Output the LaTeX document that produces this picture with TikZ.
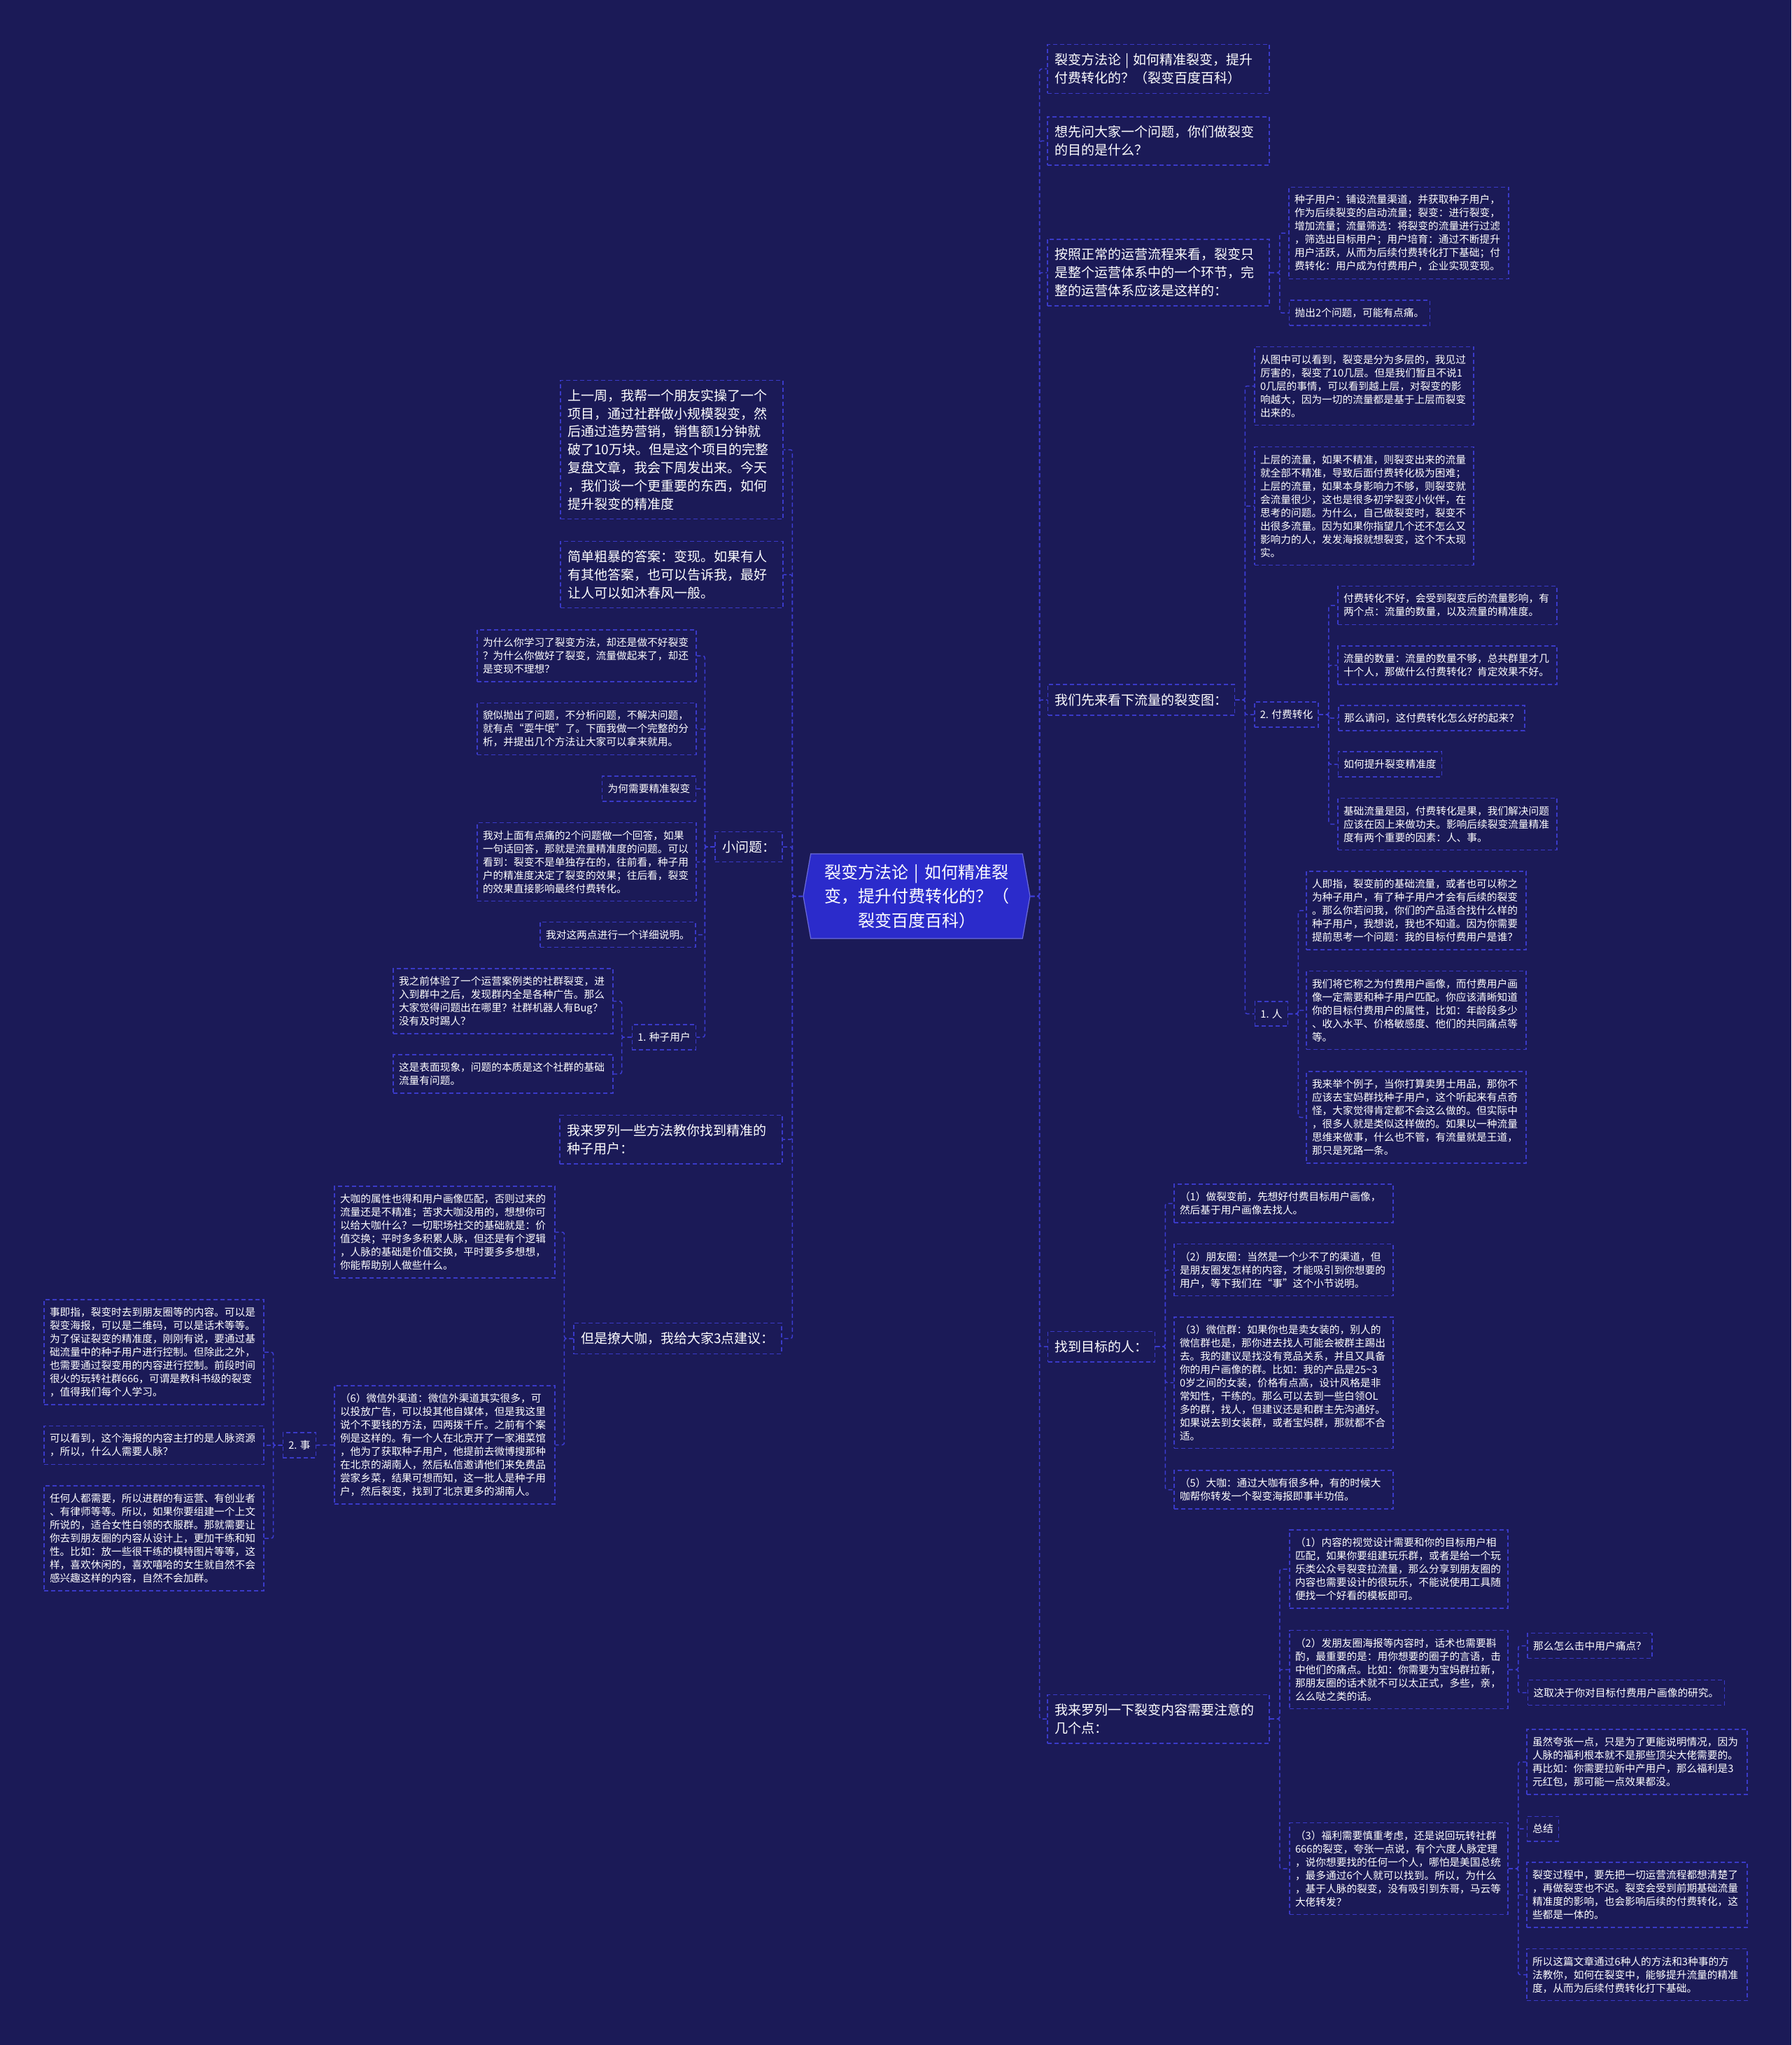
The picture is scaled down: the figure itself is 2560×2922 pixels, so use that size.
\documentclass[tikz,border=0pt]{standalone}
\usepackage{fontspec}
\setmainfont{Noto Sans CJK SC}
\usetikzlibrary{shapes.symbols}
\definecolor{cfondo}{HTML}{1B1A57}
\definecolor{cborde}{HTML}{3A3AC8}
\definecolor{clinea}{HTML}{3C3CD2}
\definecolor{craiz}{HTML}{2B2BCB}
\tikzset{
  hoja/.style={draw=cborde,line width=1.5pt,dash pattern=on 6pt off 4pt,text=white,
               align=left,inner xsep=8pt,inner ysep=11pt,font=\fontsize{14.7}{19}\selectfont},
  rama/.style={hoja,inner xsep=10pt,inner ysep=13pt,font=\fontsize{19}{25.8}\selectfont},
  raiz/.style={signal,signal to=west and east,signal pointer angle=160,fill=craiz,
               draw=craiz!70!white,line width=1.2pt,text=white,align=center,
               font=\fontsize{24}{34.5}\selectfont,minimum width=324pt,minimum height=121pt,
               text width=290pt},
  enlace/.style={draw=clinea,line width=1.5pt,dash pattern=on 6pt off 4pt,rounded corners=3pt},
}
\begin{document}
\begin{tikzpicture}[x=1pt,y=-1pt]
\useasboundingbox (0,0) rectangle (2560,2922);
\fill[cfondo] (0,0) rectangle (2560,2922);

\node[raiz] (raiz) at (1310,1280.5)
  {裂变方法论 | 如何精准裂\\变，提升付费转化的？（\\裂变百度百科）};

% lado derecho
\node[rama,text width=297pt] (tit) at (1655.5,98.5)
  {裂变方法论 | 如何精准裂变，提升\\付费转化的？（裂变百度百科）};
\node[rama,text width=297pt] (preg) at (1655.5,201.5)
  {想先问大家一个问题，你们做裂变\\的目的是什么？};
\node[rama,text width=297pt] (flujo) at (1655.5,389.5)
  {按照正常的运营流程来看，裂变只\\是整个运营体系中的一个环节，完\\整的运营体系应该是这样的：};
\node[hoja,text width=298pt] (semilla) at (1999,333)
  {种子用户：铺设流量渠道，并获取种子用户，\\作为后续裂变的启动流量；裂变：进行裂变，\\增加流量；流量筛选：将裂变的流量进行过滤\\，筛选出目标用户；用户培育：通过不断提升\\用户活跃，从而为后续付费转化打下基础；付\\费转化：用户成为付费用户，企业实现变现。};
\node[hoja] (dolor) at (1943,447) {抛出2个问题，可能有点痛。};

\node[rama] (fisi) at (1631,1000) {我们先来看下流量的裂变图：};
\node[hoja,text width=297pt] (capas) at (1949.5,551.5)
  {从图中可以看到，裂变是分为多层的，我见过\\厉害的，裂变了10几层。但是我们暂且不说1\\0几层的事情，可以看到越上层，对裂变的影\\响越大，因为一切的流量都是基于上层而裂变\\出来的。};
\node[hoja,text width=297pt] (super) at (1949.5,723)
  {上层的流量，如果不精准，则裂变出来的流量\\就全部不精准，导致后面付费转化极为困难；\\上层的流量，如果本身影响力不够，则裂变就\\会流量很少，这也是很多初学裂变小伙伴，在\\思考的问题。为什么，自己做裂变时，裂变不\\出很多流量。因为如果你指望几个还不怎么又\\影响力的人，发发海报就想裂变，这个不太现\\实。};
\node[hoja] (pago) at (1838.5,1021) {2. 付费转化};
\node[hoja,text width=297pt] (pago1) at (2068.5,865)
  {付费转化不好，会受到裂变后的流量影响，有\\两个点：流量的数量，以及流量的精准度。};
\node[hoja,text width=297pt] (pago2) at (2068.5,950.5)
  {流量的数量：流量的数量不够，总共群里才几\\十个人，那做什么付费转化？肯定效果不好。};
\node[hoja] (pago3) at (2046,1026) {那么请问，这付费转化怎么好的起来？};
\node[hoja] (pago4) at (1986.5,1092) {如何提升裂变精准度};
\node[hoja,text width=297pt] (pago5) at (2068.5,1177.5)
  {基础流量是因，付费转化是果，我们解决问题\\应该在因上来做功夫。影响后续裂变流量精准\\度有两个重要的因素：人、事。};
\node[hoja] (pers) at (1817,1448.5) {1. 人};
\node[hoja,text width=298pt] (pers1) at (2024,1301)
  {人即指，裂变前的基础流量，或者也可以称之\\为种子用户，有了种子用户才会有后续的裂变\\。那么你若问我，你们的产品适合找什么样的\\种子用户，我想说，我也不知道。因为你需要\\提前思考一个问题：我的目标付费用户是谁？};
\node[hoja,text width=298pt] (pers2) at (2024,1443.5)
  {我们将它称之为付费用户画像，而付费用户画\\像一定需要和种子用户匹配。你应该清晰知道\\你的目标付费用户的属性，比如：年龄段多少\\、收入水平、价格敏感度、他们的共同痛点等\\等。};
\node[hoja,text width=298pt] (pers3) at (2024,1596.5)
  {我来举个例子，当你打算卖男士用品，那你不\\应该去宝妈群找种子用户，这个听起来有点奇\\怪，大家觉得肯定都不会这么做的。但实际中\\，很多人就是类似这样做的。如果以一种流量\\思维来做事，什么也不管，有流量就是王道，\\那只是死路一条。};

\node[rama] (meta) at (1574,1924) {找到目标的人：};
\node[hoja,text width=297pt] (meta1) at (1834.5,1719.5)
  {（1）做裂变前，先想好付费目标用户画像，\\然后基于用户画像去找人。};
\node[hoja,text width=297pt] (meta2) at (1834.5,1814.5)
  {（2）朋友圈：当然是一个少不了的渠道，但\\是朋友圈发怎样的内容，才能吸引到你想要的\\用户，等下我们在“事”这个小节说明。};
\node[hoja,text width=297pt] (meta3) at (1834.5,1975.5)
  {（3）微信群：如果你也是卖女装的，别人的\\微信群也是，那你进去找人可能会被群主踢出\\去。我的建议是找没有竞品关系，并且又具备\\你的用户画像的群。比如：我的产品是25\textasciitilde 3\\0岁之间的女装，价格有点高，设计风格是非\\常知性，干练的。那么可以去到一些白领OL\\多的群，找人，但建议还是和群主先沟通好。\\如果说去到女装群，或者宝妈群，那就都不合\\适。};
\node[hoja,text width=297pt] (meta4) at (1834.5,2128.5)
  {（5）大咖：通过大咖有很多种，有的时候大\\咖帮你转发一个裂变海报即事半功倍。};

\node[rama,text width=297pt] (cont) at (1655.5,2456)
  {我来罗列一下裂变内容需要注意的\\几个点：};
\node[hoja,text width=296pt] (cont1) at (1999,2242)
  {（1）内容的视觉设计需要和你的目标用户相\\匹配，如果你要组建玩乐群，或者是给一个玩\\乐类公众号裂变拉流量，那么分享到朋友圈的\\内容也需要设计的很玩乐，不能说使用工具随\\便找一个好看的模板即可。};
\node[hoja,text width=296pt] (cont2) at (1999,2385.5)
  {（2）发朋友圈海报等内容时，话术也需要斟\\酌，最重要的是：用你想要的圈子的言语，击\\中他们的痛点。比如：你需要为宝妈群拉新，\\那朋友圈的话术就不可以太正式，多些，亲，\\么么哒之类的话。};
\node[hoja,text width=296pt] (cont3) at (1999,2670)
  {（3）福利需要慎重考虑，还是说回玩转社群\\666的裂变，夸张一点说，有个六度人脉定理\\，说你想要找的任何一个人，哪怕是美国总统\\，最多通过6个人就可以找到。所以，为什么\\，基于人脉的裂变，没有吸引到东哥，马云等\\大佬转发？};
\node[hoja] (punto1) at (2272,2351.5) {那么怎么击中用户痛点？};
\node[hoja] (punto2) at (2324,2418.5) {这取决于你对目标付费用户画像的研究。};
\node[hoja,text width=299pt] (fin1) at (2339.5,2517.5)
  {虽然夸张一点，只是为了更能说明情况，因为\\人脉的福利根本就不是那些顶尖大佬需要的。\\再比如：你需要拉新中产用户，那么福利是3\\元红包，那可能一点效果都没。};
\node[hoja] (fin2) at (2205,2613) {总结};
\node[hoja,text width=299pt] (fin3) at (2339.5,2707.5)
  {裂变过程中，要先把一切运营流程都想清楚了\\，再做裂变也不迟。裂变会受到前期基础流量\\精准度的影响，也会影响后续的付费转化，这\\些都是一体的。};
\node[hoja,text width=299pt] (fin4) at (2339.5,2821.5)
  {所以这篇文章通过6种人的方法和3种事的方\\法教你，如何在裂变中，能够提升流量的精准\\度，从而为后续付费转化打下基础。};

% lado izquierdo
\node[rama,text width=298pt] (semana) at (960,642.5)
  {上一周，我帮一个朋友实操了一个\\项目，通过社群做小规模裂变，然\\后通过造势营销，销售额1分钟就\\破了10万块。但是这个项目的完整\\复盘文章，我会下周发出来。今天\\，我们谈一个更重要的东西，如何\\提升裂变的精准度};
\node[rama,text width=298pt] (resp) at (960,821)
  {简单粗暴的答案：变现。如果有人\\有其他答案，也可以告诉我，最好\\让人可以如沐春风一般。};
\node[rama] (pq) at (1070,1210) {小问题：};
\node[hoja,text width=297pt] (pq1) at (838.5,937)
  {为什么你学习了裂变方法，却还是做不好裂变\\？为什么你做好了裂变，流量做起来了，却还\\是变现不理想？};
\node[hoja,text width=297pt] (pq2) at (838.5,1041.5)
  {貌似抛出了问题，不分析问题，不解决问题，\\就有点“耍牛氓”了。下面我做一个完整的分\\析，并提出几个方法让大家可以拿来就用。};
\node[hoja] (pq3) at (927.5,1127) {为何需要精准裂变};
\node[hoja,text width=297pt] (pq4) at (838.5,1231.5)
  {我对上面有点痛的2个问题做一个回答，如果\\一句话回答，那就是流量精准度的问题。可以\\看到：裂变不是单独存在的，往前看，种子用\\户的精准度决定了裂变的效果；往后看，裂变\\的效果直接影响最终付费转化。};
\node[hoja] (pq5) at (883,1335.5) {我对这两点进行一个详细说明。};
\node[hoja] (sem) at (949,1482) {1. 种子用户};
\node[hoja,text width=298pt] (sem1) at (719,1430.5)
  {我之前体验了一个运营案例类的社群裂变，进\\入到群中之后，发现群内全是各种广告。那么\\大家觉得问题出在哪里？社群机器人有Bug？\\没有及时踢人？};
\node[hoja,text width=298pt] (sem2) at (719,1534.5)
  {这是表面现象，问题的本质是这个社群的基础\\流量有问题。};
\node[rama,text width=298pt] (lista) at (959,1628)
  {我来罗列一些方法教你找到精准的\\种子用户：};
\node[rama] (kol) at (968.5,1912.5) {但是撩大咖，我给大家3点建议：};
\node[hoja,text width=299pt] (kol1) at (635.5,1760.5)
  {大咖的属性也得和用户画像匹配，否则过来的\\流量还是不精准；苦求大咖没用的，想想你可\\以给大咖什么？一切职场社交的基础就是：价\\值交换；平时多多积累人脉，但还是有个逻辑\\，人脉的基础是价值交换，平时要多多想想，\\你能帮助别人做些什么。};
\node[hoja,text width=299pt] (kol6) at (635.5,2064.5)
  {（6）微信外渠道：微信外渠道其实很多，可\\以投放广告，可以投其他自媒体，但是我这里\\说个不要钱的方法，四两拨千斤。之前有个案\\例是这样的。有一个人在北京开了一家湘菜馆\\，他为了获取种子用户，他提前去微博搜那种\\在北京的湖南人，然后私信邀请他们来免费品\\尝家乡菜，结果可想而知，这一批人是种子用\\户，然后裂变，找到了北京更多的湖南人。};
\node[hoja] (cosa) at (428,2065) {2. 事};
\node[hoja,text width=298pt] (cosa1) at (220,1932)
  {事即指，裂变时去到朋友圈等的内容。可以是\\裂变海报，可以是二维码，可以是话术等等。\\为了保证裂变的精准度，刚刚有说，要通过基\\础流量中的种子用户进行控制。但除此之外，\\也需要通过裂变用的内容进行控制。前段时间\\很火的玩转社群666，可谓是教科书级的裂变\\，值得我们每个人学习。};
\node[hoja,text width=298pt] (cosa2) at (220,2065)
  {可以看到，这个海报的内容主打的是人脉资源\\，所以，什么人需要人脉？};
\node[hoja,text width=298pt] (cosa3) at (220,2198)
  {任何人都需要，所以进群的有运营、有创业者\\、有律师等等。所以，如果你要组建一个上文\\所说的，适合女性白领的衣服群。那就需要让\\你去到朋友圈的内容从设计上，更加干练和知\\性。比如：放一些很干练的模特图片等等，这\\样，喜欢休闲的，喜欢嘻哈的女生就自然不会\\感兴趣这样的内容，自然不会加群。};

% enlaces derecha
\draw[enlace] (raiz.east) -- ++(13,0) |- (tit.west);
\draw[enlace] (raiz.east) -- ++(13,0) |- (preg.west);
\draw[enlace] (raiz.east) -- ++(13,0) |- (flujo.west);
\draw[enlace] (raiz.east) -- ++(13,0) |- (fisi.west);
\draw[enlace] (raiz.east) -- ++(13,0) |- (meta.west);
\draw[enlace] (raiz.east) -- ++(13,0) |- (cont.west);
\draw[enlace] (flujo.east) -- ++(14,0) |- (semilla.west);
\draw[enlace] (flujo.east) -- ++(14,0) |- (dolor.west);
\draw[enlace] (fisi.east) -- ++(14,0) |- (capas.west);
\draw[enlace] (fisi.east) -- ++(14,0) |- (super.west);
\draw[enlace] (fisi.east) -- ++(14,0) |- (pago.west);
\draw[enlace] (fisi.east) -- ++(14,0) |- (pers.west);
\draw[enlace] (pago.east) -- ++(14,0) |- (pago1.west);
\draw[enlace] (pago.east) -- ++(14,0) |- (pago2.west);
\draw[enlace] (pago.east) -- ++(14,0) |- (pago3.west);
\draw[enlace] (pago.east) -- ++(14,0) |- (pago4.west);
\draw[enlace] (pago.east) -- ++(14,0) |- (pago5.west);
\draw[enlace] (pers.east) -- ++(14,0) |- (pers1.west);
\draw[enlace] (pers.east) -- ++(14,0) |- (pers2.west);
\draw[enlace] (pers.east) -- ++(14,0) |- (pers3.west);
\draw[enlace] (meta.east) -- ++(14,0) |- (meta1.west);
\draw[enlace] (meta.east) -- ++(14,0) |- (meta2.west);
\draw[enlace] (meta.east) -- ++(14,0) |- (meta3.west);
\draw[enlace] (meta.east) -- ++(14,0) |- (meta4.west);
\draw[enlace] (cont.east) -- ++(14,0) |- (cont1.west);
\draw[enlace] (cont.east) -- ++(14,0) |- (cont2.west);
\draw[enlace] (cont.east) -- ++(14,0) |- (cont3.west);
\draw[enlace] (cont2.east) -- ++(14,0) |- (punto1.west);
\draw[enlace] (cont2.east) -- ++(14,0) |- (punto2.west);
\draw[enlace] (cont3.east) -- ++(14,0) |- (fin1.west);
\draw[enlace] (cont3.east) -- ++(14,0) |- (fin2.west);
\draw[enlace] (cont3.east) -- ++(14,0) |- (fin3.west);
\draw[enlace] (cont3.east) -- ++(14,0) |- (fin4.west);

% enlaces izquierda
\draw[enlace] (raiz.west) -- ++(-15,0) |- (semana.east);
\draw[enlace] (raiz.west) -- ++(-15,0) |- (resp.east);
\draw[enlace] (raiz.west) -- ++(-15,0) |- (pq.east);
\draw[enlace] (raiz.west) -- ++(-15,0) |- (lista.east);
\draw[enlace] (raiz.west) -- ++(-15,0) |- (kol.east);
\draw[enlace] (pq.west) -- ++(-14,0) |- (pq1.east);
\draw[enlace] (pq.west) -- ++(-14,0) |- (pq2.east);
\draw[enlace] (pq.west) -- ++(-14,0) |- (pq3.east);
\draw[enlace] (pq.west) -- ++(-14,0) |- (pq4.east);
\draw[enlace] (pq.west) -- ++(-14,0) |- (pq5.east);
\draw[enlace] (pq.west) -- ++(-14,0) |- (sem.east);
\draw[enlace] (sem.west) -- ++(-14,0) |- (sem1.east);
\draw[enlace] (sem.west) -- ++(-14,0) |- (sem2.east);
\draw[enlace] (kol.west) -- ++(-13,0) |- (kol1.east);
\draw[enlace] (kol.west) -- ++(-13,0) |- (kol6.east);
\draw[enlace] (kol6.west) -- (cosa.east);
\draw[enlace] (cosa.west) -- ++(-13,0) |- (cosa1.east);
\draw[enlace] (cosa.west) -- ++(-13,0) |- (cosa2.east);
\draw[enlace] (cosa.west) -- ++(-13,0) |- (cosa3.east);

\end{tikzpicture}
\end{document}
